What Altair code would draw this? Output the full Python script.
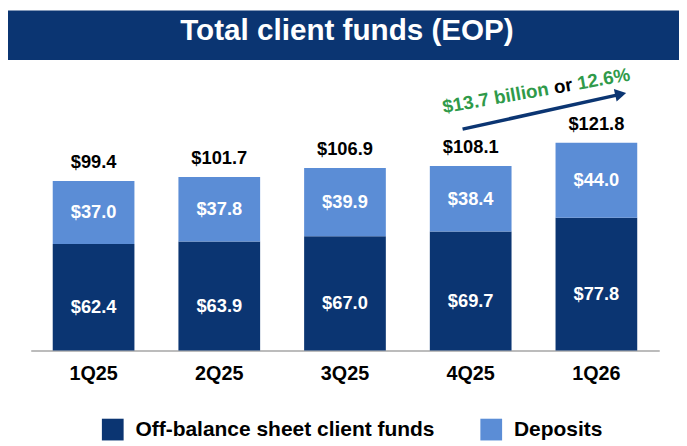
import altair as alt
import pandas as pd

quarters = ["1Q25", "2Q25", "3Q25", "4Q25", "1Q26"]
off_balance = [62.4, 63.9, 67.0, 69.7, 77.8]
deposits = [37.0, 37.8, 39.9, 38.4, 44.0]
totals = [99.4, 101.7, 106.9, 108.1, 121.8]
series_names = ["Off-balance sheet client funds", "Deposits"]
series_colors = ["#0b3572", "#5b8dd6"]
title_text = "Total client funds (EOP)"
growth_parts = ["$13.7 billion", "or", "12.6%"]

rows = []
for q, o, d in zip(quarters, off_balance, deposits):
    rows.append({"q": q, "series": series_names[0], "value": o, "ord": 0,
                 "mid": o / 2, "label": f"${o:.1f}"})
    rows.append({"q": q, "series": series_names[1], "value": d, "ord": 1,
                 "mid": o + d / 2, "label": f"${d:.1f}"})
df = pd.DataFrame(rows)
tot_df = pd.DataFrame({"q": quarters, "total": totals,
                       "label": [f"${t:.1f}" for t in totals]})

W, H = 636, 278
FONT = "Liberation Sans"

xenc = alt.X("q:N", sort=quarters, title=None,
             scale=alt.Scale(paddingInner=0.35, paddingOuter=0.175),
             axis=alt.Axis(labelFontSize=20, labelFontWeight="bold", labelColor="black",
                           labelFont=FONT, ticks=False, domainColor="#a6a6a6",
                           domainWidth=1.5, labelPadding=13, labelAngle=0))
yscale = alt.Scale(domain=[0, 161])

bars = alt.Chart(df).mark_bar().encode(
    x=xenc,
    y=alt.Y("value:Q", stack="zero", scale=yscale, axis=None),
    color=alt.Color("series:N", scale=alt.Scale(domain=series_names, range=series_colors),
                    legend=alt.Legend(title=None, orient="none", legendX=72, legendY=347,
                                      direction="horizontal", symbolType="square",
                                      symbolSize=484, symbolStrokeWidth=0,
                                      labelFontSize=21.2, labelFontWeight="bold",
                                      labelColor="black", labelFont=FONT, labelLimit=0,
                                      columnPadding=46, labelOffset=12)),
    order=alt.Order("ord:Q"),
)

inner_dep = alt.Chart(df[df["ord"] == 1]).mark_text(
    color="white", fontSize=18.5, fontWeight="bold", font=FONT, baseline="middle").encode(
    x=alt.X("q:N", sort=quarters),
    y=alt.Y("mid:Q", scale=yscale),
    text="label:N",
)
inner_off = alt.Chart(df[df["ord"] == 0]).mark_text(
    color="white", fontSize=18.5, fontWeight="bold", font=FONT, baseline="middle",
    dy=10).encode(
    x=alt.X("q:N", sort=quarters),
    y=alt.Y("mid:Q", scale=yscale),
    text="label:N",
)

top = alt.Chart(tot_df).mark_text(color="black", fontSize=18.5, fontWeight="bold",
                                  font=FONT, baseline="middle", dy=-19).encode(
    x=alt.X("q:N", sort=quarters),
    y=alt.Y("total:Q", scale=yscale),
    text="label:N",
)

one = pd.DataFrame({"k": [0]})
banner = alt.Chart(one).mark_rect(color="#0b3572").encode(
    x=alt.value(-23), x2=alt.value(656), y=alt.value(-66), y2=alt.value(-16))
title = alt.Chart(one).mark_text(color="white", fontSize=30, fontWeight="bold",
                                 font=FONT, baseline="middle").encode(
    x=alt.value(320), y=alt.value(-45), text=alt.value(title_text))

arrow = alt.Chart(one).mark_rule(color="#0b3572", strokeWidth=3.5).encode(
    x=alt.value(437), y=alt.value(54), x2=alt.value(593), y2=alt.value(19.5))
head = alt.Chart(one).mark_point(shape="triangle-right", filled=True, opacity=1,
                                 color="#0b3572", size=170, angle=347.5).encode(
    x=alt.value(597), y=alt.value(18.5))

g1 = alt.Chart(one).mark_text(color="#2f9a4a", fontSize=19, fontWeight="bold", font=FONT,
                              align="left", baseline="alphabetic", angle=350).encode(
    x=alt.value(418), y=alt.value(38), text=alt.value(growth_parts[0]))
g2 = alt.Chart(one).mark_text(color="black", fontSize=19, fontWeight="bold", font=FONT,
                              align="left", baseline="alphabetic", angle=350).encode(
    x=alt.value(530.4), y=alt.value(18.2), text=alt.value(growth_parts[1]))
g3 = alt.Chart(one).mark_text(color="#2f9a4a", fontSize=19, fontWeight="bold", font=FONT,
                              align="left", baseline="alphabetic", angle=350).encode(
    x=alt.value(554.3), y=alt.value(14.0), text=alt.value(growth_parts[2]))

chart = alt.layer(bars, inner_dep, inner_off, top, banner, title, arrow, head,
                  g1, g2, g3).properties(
    width=W, height=H,
    autosize=alt.AutoSizeParams(type="none"),
    padding={"left": 23, "top": 66, "right": 20, "bottom": 94},
    background="white",
).configure_view(stroke=None)

chart.save("out.html", embed_options={"renderer": "svg", "actions": False})
